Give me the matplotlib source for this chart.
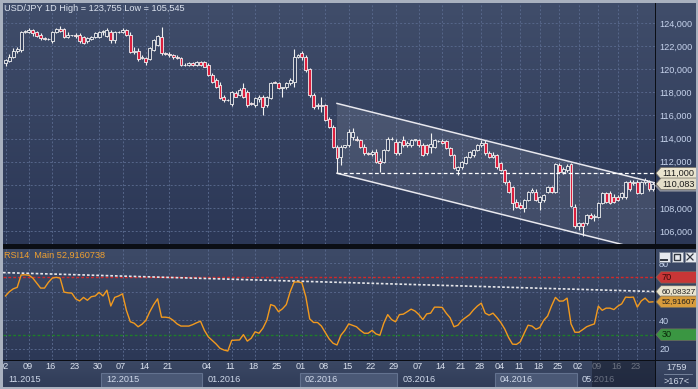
import numpy as np
import pandas as pd
import matplotlib
matplotlib.use("Agg")
import matplotlib.pyplot as plt
from matplotlib.patches import Rectangle, Polygon
from matplotlib.collections import PatchCollection
from matplotlib.colors import LinearSegmentedColormap
from matplotlib.transforms import blended_transform_factory
from matplotlib.lines import Line2D

W, H, DPI = 698, 389, 100
plt.rcParams['font.family'] = ['Liberation Sans', 'DejaVu Sans']
FS = 6.6

# ---------------- data ----------------
first_day = "2015-11-02"
last_day = "2016-05-27"
holidays = ["2015-12-25", "2016-01-01"]
sunday_first, sunday_last = "2015-11-08", "2016-03-13"
unlabeled_weeks = ["2015-12-28"]

opens = [120.5, 120.7, 121.1, 121.6, 121.7, 123.2, 123.2, 123.4, 123.2, 122.95,
         122.7, 122.6, 122.4, 123.2, 123.5, 123.5, 122.8, 122.95, 123.0, 123.0,
         122.8, 122.4, 122.6, 122.8, 122.8, 123.2, 122.9, 123.2, 122.5, 123.2,
         123.2, 123.4, 123.0, 121.5, 121.6, 120.95, 121.0, 120.9, 121.7, 122.1,
         122.8, 121.4, 121.3, 121.2, 121.1, 121.0, 120.4, 120.4, 120.5, 120.4,
         120.6, 120.6, 120.4, 119.5, 119.07, 118.6, 117.6, 117.35, 116.95, 117.95,
         117.8, 118.4, 118.0, 117.1, 116.9, 117.4, 117.6, 116.9, 117.5, 118.9,
         118.8, 118.4, 118.5, 118.8, 118.9, 121.1, 121.4, 121.05, 120.0, 117.8,
         116.8, 116.9, 116.9, 115.7, 115.0, 113.3, 112.4, 113.3, 113.45, 114.1,
         114.0, 113.9, 113.3, 112.75, 112.7, 112.8, 112.1, 112.0, 113.0, 114.0,
         113.7, 112.75, 113.9, 113.45, 113.45, 113.9, 113.9, 113.45, 113.45, 113.3,
         113.3, 113.8, 113.8, 113.8, 113.2, 112.6, 111.3, 111.5, 111.9, 112.4,
         112.6, 113.0, 113.45, 113.6, 112.75, 112.4, 112.6, 111.9, 111.3, 110.25,
         109.8, 108.5, 108.25, 108.0, 108.7, 109.4, 109.4, 108.5, 108.7, 109.4,
         109.8, 109.4, 111.7, 111.1, 111.3, 111.8, 108.1, 106.4, 106.7, 106.7,
         107.4, 107.2, 107.2, 108.4, 109.3, 109.3, 108.95, 108.95, 108.9, 108.95,
         110.2, 110.15, 110.25, 109.3, 110.2, 110.25, 109.6]
highs = [120.9, 121.3, 121.8, 121.9, 123.3, 123.4, 123.6, 123.5, 123.3, 123.1,
         122.8, 122.7, 123.3, 123.6, 123.755, 123.6, 123.2, 123.0, 123.1, 123.1,
         122.9, 122.8, 122.9, 123.2, 123.3, 123.4, 123.6, 123.4, 123.3, 123.3,
         123.6, 123.5, 123.2, 121.9, 121.8, 121.2, 121.1, 121.9, 122.6, 123.0,
         123.65, 121.5, 121.5, 121.3, 121.2, 121.1, 120.5, 120.6, 120.6, 120.7,
         120.7, 120.7, 120.5, 119.7, 119.2, 118.9, 117.8, 117.45, 118.1, 118.1,
         118.4, 118.8, 118.2, 117.2, 117.6, 117.8, 117.8, 117.7, 118.9, 119.0,
         118.9, 118.5, 118.9, 119.2, 121.75, 121.3, 121.6, 121.2, 120.1, 117.9,
         117.1, 117.6, 117.0, 115.9, 115.2, 113.4, 113.4, 113.45, 114.8, 114.9,
         114.2, 114.0, 113.5, 112.8, 113.0, 113.1, 112.3, 113.1, 114.1, 114.1,
         114.0, 113.8, 114.2, 113.8, 114.0, 114.0, 114.0, 113.6, 113.5, 114.5,
         114.0, 113.9, 114.0, 113.9, 113.3, 112.7, 111.6, 112.1, 112.5, 112.9,
         113.1, 113.5, 113.9, 113.9, 112.9, 112.8, 112.7, 112.0, 111.4, 110.4,
         109.9, 108.8, 108.5, 108.8, 109.5, 109.7, 109.6, 109.0, 109.2, 109.9,
         109.9, 111.9, 111.9, 111.5, 111.8, 111.9, 108.3, 106.8, 106.8, 107.5,
         107.6, 107.5, 108.5, 109.4, 109.4, 109.5, 109.2, 109.1, 109.4, 110.3,
         110.4, 110.4, 110.4, 110.3, 110.6, 110.4, 110.2]
lows = [120.3, 120.6, 121.0, 121.4, 121.5, 123.1, 123.1, 122.9, 122.8, 122.5,
        122.5, 122.5, 122.3, 123.1, 123.2, 122.7, 122.7, 122.9, 122.7, 122.3,
        122.2, 122.3, 122.5, 122.7, 122.7, 123.0, 122.8, 122.3, 122.3, 123.1,
        123.1, 122.9, 121.4, 121.3, 120.7, 120.9, 120.4, 120.8, 121.6, 122.0,
        121.2, 121.2, 121.05, 120.9, 120.9, 120.3, 120.3, 120.3, 120.3, 120.3,
        120.3, 120.2, 119.4, 118.8, 118.4, 117.4, 117.2, 117.25, 116.8, 117.6,
        117.7, 117.5, 116.7, 116.9, 116.7, 117.2, 116.04, 116.7, 117.4, 118.8,
        118.3, 117.6, 118.3, 118.6, 118.5, 121.0, 120.8, 119.8, 117.6, 116.6,
        116.6, 116.3, 115.5, 114.9, 113.2, 111.0, 111.7, 113.2, 113.3, 113.9,
        113.8, 113.2, 112.6, 112.6, 112.5, 111.9, 111.1, 111.9, 112.9, 113.9,
        112.6, 112.6, 113.3, 113.3, 113.3, 113.8, 113.3, 112.5, 112.6, 112.75,
        113.2, 113.7, 113.5, 113.1, 112.5, 111.4, 110.85, 111.4, 111.8, 112.3,
        112.4, 112.9, 113.3, 112.6, 112.3, 112.3, 111.4, 111.2, 110.1, 109.3,
        107.8, 108.0, 107.9, 107.65, 108.6, 109.3, 108.6, 107.8, 108.5, 109.3,
        109.3, 109.3, 111.0, 110.9, 111.1, 108.1, 106.3, 106.1, 105.545, 106.5,
        107.0, 106.9, 107.1, 108.3, 108.4, 108.3, 108.4, 108.6, 108.8, 108.8,
        109.5, 110.0, 109.2, 109.2, 110.1, 109.5, 109.5]
closes = [120.8, 121.1, 121.6, 121.75, 123.2, 123.3, 123.4, 123.1, 122.9, 122.7,
          122.6, 122.6, 123.2, 123.5, 123.3, 122.8, 123.0, 122.95, 122.9, 122.4,
          122.3, 122.7, 122.8, 123.1, 123.2, 123.3, 123.4, 122.5, 123.2, 123.25,
          123.4, 123.0, 121.5, 121.6, 120.9, 121.1, 120.6, 121.8, 122.5, 122.9,
          121.4, 121.3, 121.2, 121.1, 121.0, 120.4, 120.4, 120.5, 120.4, 120.6,
          120.4, 120.2, 119.5, 118.9, 118.5, 117.5, 117.3, 117.3, 118.0, 117.6,
          118.2, 117.6, 116.9, 116.95, 117.5, 117.6, 116.7, 117.6, 118.85, 118.85,
          118.4, 118.45, 118.8, 119.05, 121.05, 121.2, 121.05, 119.95, 117.8, 116.7,
          116.9, 116.85, 115.6, 115.0, 113.3, 112.3, 113.3, 113.4, 114.6, 114.6,
          113.9, 113.3, 112.75, 112.7, 112.8, 112.0, 111.9, 113.0, 114.0, 114.0,
          112.75, 113.7, 113.45, 113.6, 113.9, 114.0, 113.45, 112.6, 112.75, 113.5,
          113.9, 113.8, 113.6, 113.2, 112.6, 111.45, 111.5, 112.0, 112.4, 112.8,
          113.0, 113.45, 113.6, 112.75, 112.4, 112.6, 111.5, 111.3, 110.2, 109.4,
          108.4, 108.1, 108.0, 108.7, 109.4, 109.55, 108.7, 108.9, 109.1, 109.8,
          109.4, 111.8, 111.1, 111.4, 111.6, 108.15, 106.4, 106.7, 106.4, 107.4,
          107.1, 107.3, 108.4, 109.3, 108.5, 108.4, 108.5, 108.7, 109.3, 110.2,
          109.6, 110.25, 109.3, 110.2, 110.4, 109.6, 110.083]
rsi14 = [57, 60, 62, 63, 71.6, 71.8, 71.5, 69.5, 66, 62.5,
         62.5, 66.5, 69.5, 70, 69.5, 59.7, 59.2, 59.0, 55, 53.5,
         56, 54, 56.5, 57, 59.5, 57, 61, 50, 56, 57,
         58.5, 47, 39, 38, 35.5, 37.3, 40, 46, 51, 55,
         42.2, 42.2, 41.8, 40, 37.5, 36, 36, 36, 37, 38.3,
         39.4, 33, 28.5, 26, 23.5, 20.5, 19.3, 18.6, 26, 26.2,
         26.3, 30, 25.5, 27.5, 32, 31, 34.5, 40, 51, 50,
         46, 48, 51, 60, 66.7, 66.8, 66.2, 56.5, 41, 38.5,
         38.5, 36, 31.5, 27, 24, 22.8, 29.6, 33, 37.5, 36.5,
         35.5, 33, 31, 31, 33, 30.5, 29.6, 38, 44, 40.5,
         39, 44, 44.3, 46, 47.8, 46.5, 44, 40.5, 44.5, 45,
         49.2, 49.2, 49, 45, 41.8, 35.5, 36.6, 40, 42, 44,
         47.3, 50, 52, 45, 43.6, 45, 42, 38.5, 34, 28,
         23.4, 23.2, 25, 31, 36.6, 36, 33.8, 35, 40, 43,
         50, 56, 53.4, 53.5, 55.5, 37.5, 31.7, 31.7, 33.5, 35.5,
         36.6, 37.5, 49.9, 47, 48.5, 48.5, 47.5, 49.9, 51.5, 56.2,
         56, 56.2, 49.2, 53.5, 55.5, 52.7, 52.916]

title = "USD/JPY 1D High = 123,755 Low = 105,545"
rsi_title = "RSI14  Main 52,9160738"
price_ticks = [106, 108, 110, 112, 114, 116, 118, 120, 122, 124]
rsi_ticks = [20, 40, 60, 80]
rsi_levels = [70, 30]
channel_anchor = "2016-02-11"
channel_upper = [117.04, 110.21]   # at anchor bar and at last bar
channel_lower = [111.00, 104.17]
support_level = 111.000
last_price = 110.083
rsi_trend = [73.3, 60.08327]       # at left and right edges
rsi_last = 52.91607
footer_top, footer_bottom = "1759", ">167<"
shaded_months = ["2015-12", "2016-02", "2016-04"]

# ---------------- bar calendar ----------------
days = pd.bdate_range(first_day, last_day)
days = days[~days.isin(pd.to_datetime(holidays))]
suns = pd.date_range(sunday_first, sunday_last, freq="W-SUN")
dates = days.union(suns)
n = min(len(dates), len(opens))
dates = dates[:n]
x = np.arange(n)

# ---------------- figure ----------------
fig = plt.figure(figsize=(W / DPI, H / DPI), dpi=DPI, facecolor="#0b0e15")


def fbox(x0, y0, x1, y1):
    return [x0 / W, 1 - y1 / H, (x1 - x0) / W, (y1 - y0) / H]


def gradient_panel(box, top, bottom):
    a = fig.add_axes(box, zorder=-5)
    a.set_axis_off()
    cmap = LinearSegmentedColormap.from_list("g", [top, bottom])
    a.imshow(np.linspace(0, 1, 128).reshape(-1, 1), cmap=cmap, aspect="auto",
             extent=[0, 1, 0, 1], origin="upper", interpolation="bilinear")
    a.set_xlim(0, 1)
    a.set_ylim(0, 1)
    return a


TOP_C, BOT_C = "#404d6a", "#2b3756"
gradient_panel(fbox(3, 3, 655, 244), TOP_C, BOT_C)
gradient_panel(fbox(3, 249, 655, 360), "#3d4a67", "#2c3856")
gradient_panel(fbox(3, 361, 655, 387), "#3b4864", "#303c58")
gradient_panel(fbox(656, 3, 697, 244), TOP_C, BOT_C)
gradient_panel(fbox(656, 249, 697, 360), "#3d4a67", "#2c3856")
gradient_panel(fbox(656, 361, 697, 387), "#3b4864", "#303c58")

X0, DX = 5.5, 3.9
xlim = ((3 - X0) / DX, (655 - X0) / DX)

ax1 = fig.add_axes(fbox(3, 3, 655, 244))
ax2 = fig.add_axes(fbox(3, 249, 655, 360), sharex=ax1)
ax3 = fig.add_axes(fbox(3, 361, 655, 387), sharex=ax1)
for a in (ax1, ax2, ax3):
    a.set_facecolor("none")
    for s in a.spines.values():
        s.set_visible(False)

ax1.set_xlim(*xlim)
ax1.set_ylim(124 - 221 / 11.556, 124 + 20 / 11.556)
ax2.set_ylim(20 - 11 / 1.433, 80 + 14 / 1.433)
ax3.set_ylim(0, 1)

# weekly ticks (Mondays)
mondays = [i for i, d in enumerate(dates)
           if d.weekday() == 0 and d.strftime("%Y-%m-%d") not in unlabeled_weeks]
ax1.set_xticks(mondays)
GRID = dict(color="#56668a", linestyle=(0, (2, 2)), linewidth=0.7)
for a in (ax1, ax2):
    a.grid(True, **GRID)
    a.set_axisbelow(True)
    a.tick_params(axis="x", bottom=False, labelbottom=False, length=0)
ax3.tick_params(axis="both", bottom=False, left=False, labelbottom=False,
                labelleft=False, length=0)

# tick values hidden behind a value tag get no label (as in the reference)
hidden_price_labels = [110]
hidden_rsi_labels = [60]
LABEL_C = "#c6d3ec"
ax1.set_yticks(price_ticks)
ax1.set_yticklabels(["" if v in hidden_price_labels else f"{v:.3f}".replace(".", ",")
                     for v in price_ticks])
ax1.yaxis.tick_right()
ax1.tick_params(axis="y", length=0, pad=2.9, labelsize=FS, labelcolor=LABEL_C)
ax2.set_yticks(rsi_ticks)
ax2.set_yticklabels(["" if v in hidden_rsi_labels else str(v) for v in rsi_ticks])
ax2.yaxis.tick_right()
ax2.tick_params(axis="y", length=0, pad=2.9, labelsize=FS, labelcolor=LABEL_C)

# ---------------- candles ----------------
o = np.array(opens[:n]); h = np.array(highs[:n])
l = np.array(lows[:n]); c = np.array(closes[:n])
ax1.vlines(x, l, h, colors="#f2f2f2", lw=0.8, zorder=3)
bw = 0.74
rects, fcs = [], []
for i in range(n):
    lo, hi = min(o[i], c[i]), max(o[i], c[i])
    rects.append(Rectangle((x[i] - bw / 2, lo), bw, hi - lo))
    fcs.append("#354260" if c[i] >= o[i] else "#dc1f3e")
ax1.add_collection(PatchCollection(rects, facecolors=fcs, edgecolors="#f2f2f2",
                                   linewidths=0.6, zorder=4))

# ---------------- channel ----------------
ia = int(dates.get_loc(pd.Timestamp(channel_anchor)))
ib = n - 1
xr = xlim[1]
su = (channel_upper[1] - channel_upper[0]) / (ib - ia)
sl = (channel_lower[1] - channel_lower[0]) / (ib - ia)
up_r = channel_upper[0] + su * (xr - ia)
lo_r = channel_lower[0] + sl * (xr - ia)
ax1.add_patch(Polygon([(ia, channel_upper[0]), (xr, up_r), (xr, lo_r),
                       (ia, channel_lower[0])], closed=True, fc="white",
                      alpha=0.10, ec="none", zorder=2))
ax1.plot([ia, xr], [channel_upper[0], up_r], color="#e8e8ee", lw=1.1, zorder=5)
ax1.plot([ia, xr], [channel_lower[0], lo_r], color="#e8e8ee", lw=1.1, zorder=5)
ax1.hlines(support_level, ia, xr, colors="white", linestyles=(0, (3, 2)),
           lw=0.9, zorder=5)

# ---------------- RSI ----------------
ax2.axhline(rsi_levels[0], color="#d42828", ls=(0, (2, 1.5)), lw=1.0, zorder=2)
ax2.axhline(rsi_levels[1], color="#1f7d2a", ls=(0, (2, 1.5)), lw=1.0, zorder=2)
ax2.plot([xlim[0], xlim[1]], rsi_trend, color="#e6e6ea", ls=(0, (1.6, 1.2)),
         lw=1.2, zorder=3)
ax2.plot(x, rsi14[:n], color="#f29a1e", lw=1.0, zorder=4)

# ---------------- texts ----------------
fig.text(4 / W, 1 - 8.2 / H, title, fontsize=FS, color="#dce3ef", va="center")
fig.text(4 / W, 1 - 255.5 / H, rsi_title, fontsize=FS, color="#f0a030", va="center")

# date axis
bt = blended_transform_factory(ax3.transData, ax3.transAxes)
months = pd.Series(x, index=dates).groupby(dates.to_period("M")).min()
bounds = list(months.values) + [n]
for k, (per, i0) in enumerate(months.items()):
    left = max(i0 - 0.5, xlim[0])
    right = bounds[k + 1] - 0.5
    if str(per) in shaded_months:
        ax3.add_patch(Rectangle((left, 0.0), right - left, 0.54, transform=bt,
                                fc="#4a5875", ec="#63728f", lw=0.8, zorder=1))
    ax3.text(left + 5 / DX, 0.27, per.strftime("%m.%Y"), transform=bt,
             fontsize=FS, color="#d0d9ea", va="center", ha="left", zorder=3,
             clip_on=True)
for i in mondays:
    ax3.text(i - 1.5 / DX, 0.77, dates[i].strftime("%d"), transform=bt,
             fontsize=FS, color="#dbe2ef", va="center", ha="center", zorder=3,
             clip_on=True)

# dark overlay at the right end of the date axis
fig.patches.append(Rectangle((592 / W, 1 - 387 / H), 63 / W, 26 / H,
                             transform=fig.transFigure, fc="#141a2a", alpha=0.55,
                             ec="none", zorder=8))

# ---------------- value tags ----------------
def tag(ax, v, text, fc, tc, shadow=False, fs=FS):
    yc = ax.transData.transform((0, v))[1]
    hh = 5.8
    pts = [(656, yc), (661, yc + hh), (697, yc + hh), (697, yc - hh), (661, yc - hh)]
    if shadow:
        sp = [(px - 1, py - 2) for px, py in pts]
        fig.patches.append(Polygon([(px / W, py / H) for px, py in sp], closed=True,
                                   transform=fig.transFigure, fc="#8a8e98",
                                   ec="none", zorder=9))
    fig.patches.append(Polygon([(px / W, py / H) for px, py in pts], closed=True,
                               transform=fig.transFigure, fc=fc, ec="#6e6a60",
                               lw=0.5, zorder=10))
    fig.text(662 / W, yc / H, text, fontsize=fs, color=tc, va="center",
             ha="left", zorder=11)


tag(ax1, support_level, f"{support_level:.3f}".replace(".", ","), "#ebe5cf", "#1c1c1c")
tag(ax1, last_price, f"{last_price:.3f}".replace(".", ","), "#e4dec8", "#1c1c1c", shadow=True)
tag(ax2, rsi_levels[0], str(rsi_levels[0]), "#c83636", "#3a0a0a")
tag(ax2, rsi_trend[1], f"{rsi_trend[1]:.5f}".replace(".", ","), "#ebe5cf", "#1c1c1c", fs=5.9)
tag(ax2, rsi_last, f"{rsi_last:.5f}".replace(".", ","), "#d89c3c", "#1c1c1c", fs=5.9)
tag(ax2, rsi_levels[1], str(rsi_levels[1]), "#3a9642", "#0a2a0a")

# window buttons
for k, bx in enumerate((658.5, 671.5, 684.5)):
    fig.patches.append(Rectangle((bx / W, 1 - 262 / H), 11 / W, 10.5 / H,
                                 transform=fig.transFigure, fc="#e6e9ee",
                                 ec="#7d8696", lw=0.6, zorder=12))
    cx0, cx1 = bx + 2.5, bx + 8.5
    if k == 0:
        fig.lines.append(Line2D([cx0 / W, cx1 / W], [1 - 259.5 / H, 1 - 259.5 / H],
                                transform=fig.transFigure, color="#303640",
                                lw=1.4, zorder=13))
    elif k == 1:
        fig.patches.append(Rectangle((cx0 / W, 1 - 260 / H), 6 / W, 6 / H,
                                     transform=fig.transFigure, fill=False,
                                     ec="#303640", lw=1.0, zorder=13))
    else:
        for ya, yb in ((254, 260), (260, 254)):
            fig.lines.append(Line2D([cx0 / W, cx1 / W], [1 - ya / H, 1 - yb / H],
                                    transform=fig.transFigure, color="#303640",
                                    lw=0.9, zorder=13))

# footer box
fig.text(677 / W, 1 - 368 / H, footer_top, fontsize=FS, color="#d3dbea",
         ha="center", va="center")
fig.text(677 / W, 1 - 381 / H, footer_bottom, fontsize=FS, color="#d3dbea",
         ha="center", va="center")
fig.lines.append(Line2D([664 / W, 692 / W], [1 - 374 / H, 1 - 374 / H],
                        transform=fig.transFigure, color="#7f8ca4", lw=0.6))

# light outer frame
for (x0_, y0_, x1_, y1_) in ((0, 0, 2.5, 389), (0, 0, 698, 2.5),
                             (695.8, 0, 698, 389), (0, 386.8, 698, 389)):
    fig.patches.append(Rectangle((x0_ / W, 1 - y1_ / H), (x1_ - x0_) / W,
                                 (y1_ - y0_) / H, transform=fig.transFigure,
                                 fc="#a9b1bf", ec="none", zorder=20))

fig.savefig("out.png", dpi=DPI, facecolor=fig.get_facecolor())
